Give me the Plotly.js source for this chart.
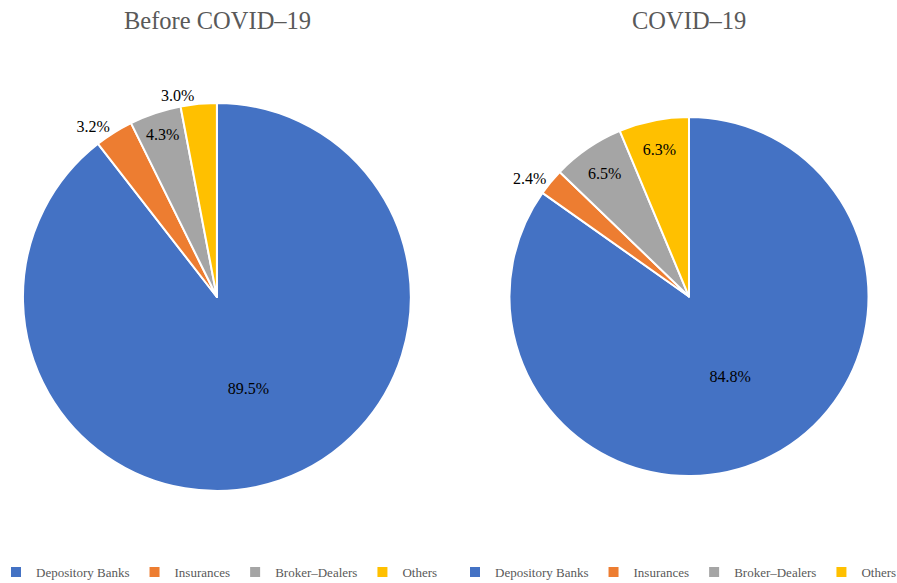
<!DOCTYPE html>
<html>
<head>
<meta charset="utf-8">
<script src="https://cdn.plot.ly/plotly-3.0.1.min.js"></script>
<style>html,body{margin:0;padding:0;background:#fff;}#chart{width:897px;height:583px;}</style>
</head>
<body>
<div id="chart"></div>
<script>
const categories = ["Depository Banks", "Insurances", "Broker–Dealers", "Others"];
const beforeValues = [89.5, 3.2, 4.3, 3.0];
const covidValues = [84.8, 2.4, 6.5, 6.3];
const beforeTextPos = ["inside", "outside", "inside", "outside"];
const covidTextPos = ["inside", "outside", "inside", "inside"];
const colors = ["#4472C4", "#ED7D31", "#A5A5A5", "#FFC000"];
const titles = ["Before COVID–19", "COVID–19"];

const FONT = "Liberation Serif";

function pieTrace(values, pos, domain, legendName, group) {
  const tf = {family: FONT, size: 16, color: "#000000"};
  return {
    type: "pie",
    labels: categories,
    values: values,
    sort: false,
    direction: "clockwise",
    rotation: 0,
    domain: domain,
    marker: {colors: colors, line: {color: "#ffffff", width: 2}},
    texttemplate: "%{value:.1f}%",
    textposition: pos,
    insidetextorientation: "horizontal",
    textfont: tf,
    insidetextfont: tf,
    outsidetextfont: tf,
    hoverinfo: "label+value",
    legend: legendName,
    legendgroup: group,
    showlegend: true
  };
}

const data = [
  pieTrace(beforeValues, beforeTextPos, {x: [0.0256, 0.458], y: [0.1578, 0.8233]}, "legend", "before"),
  pieTrace(covidValues, covidTextPos, {x: [0.5674, 0.9688], y: [0.1835, 0.7993]}, "legend2", "covid")
];

const legendBase = {
  orientation: "h",
  yanchor: "middle",
  y: 1 - 572/583,
  xanchor: "left",
  font: {family: FONT, size: 13, color: "#595959"},
  bgcolor: "rgba(0,0,0,0)",
  itemwidth: 30,
  traceorder: "normal"
};

const layout = {
  width: 897,
  height: 583,
  margin: {l: 0, r: 0, t: 0, b: 0, autoexpand: false},
  paper_bgcolor: "#ffffff",
  font: {family: FONT},
  legend: Object.assign({}, legendBase, {x: -4/897}),
  legend2: Object.assign({}, legendBase, {x: 455/897}),
  annotations: [
    {text: titles[0], x: 217/897, y: 1 - 20/583, xref: "paper", yref: "paper", showarrow: false,
     font: {family: FONT, size: 24.5, color: "#595959"}, xanchor: "center", yanchor: "middle"},
    {text: titles[1], x: 689/897, y: 1 - 20/583, xref: "paper", yref: "paper", showarrow: false,
     font: {family: FONT, size: 24.5, color: "#595959"}, xanchor: "center", yanchor: "middle"}
  ]
};

Plotly.newPlot("chart", data, layout, {displayModeBar: false, staticPlot: true});
</script>
</body>
</html>
